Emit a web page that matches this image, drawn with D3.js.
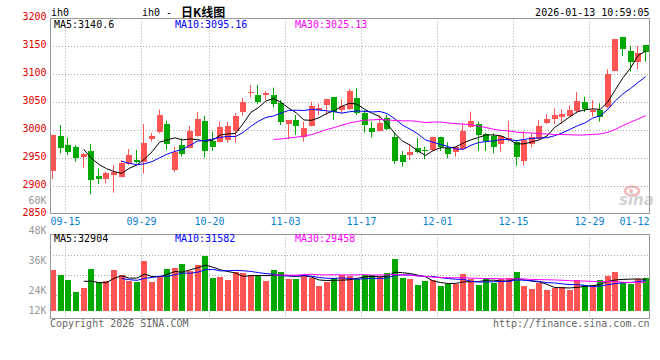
<!DOCTYPE html>
<html><head><meta charset="utf-8">
<script src="https://cdn.jsdelivr.net/npm/d3@7"></script>
<style>
html,body{margin:0;padding:0;background:#fff;}
svg{display:block;font-family:"DejaVu Sans Mono",monospace;font-size:10px;}
</style></head><body>
<svg id="c" width="660" height="360"></svg>
<script>
const dates = ["09-15","09-16","09-17","09-18","09-19","09-22","09-23","09-24","09-25","09-26","09-29","09-30",
"10-09","10-10","10-13","10-14","10-15","10-16","10-17","10-20","10-21","10-22","10-23","10-24","10-27","10-28","10-29","10-30","10-31",
"11-03","11-04","11-05","11-06","11-07","11-10","11-11","11-12","11-13","11-14","11-17","11-18","11-19","11-20","11-21","11-24","11-25","11-26","11-27","11-28",
"12-01","12-02","12-03","12-04","12-05","12-08","12-09","12-10","12-11","12-12","12-15","12-16","12-17","12-18","12-19","12-22","12-23","12-24","12-25","12-26","12-29","12-30","12-31",
"01-05","01-06","01-07","01-08","01-09","01-12","01-13"];
const open = [2927.4,2989.3,2973.2,2969.6,2951.8,2962.5,2918.4,2913.1,2920.2,2916.7,
2939.3,2946.4,2943.5,2983.9,2995.8,3010.7,2928.0,2973.2,2968.4,2989.9,
3016.1,2981.0,2979.2,2981.6,2998.8,3032.7,3065.5,3062.5,3061.9,3062.5,
3047.6,3011.3,3017.9,2986.9,3007.2,3035.7,3045.2,3058.9,3035.1,3037.5,
3057.8,3030.9,3004.2,2998.8,3021.4,2988.1,2955.4,2956.0,2968.4,2964.9,
2964.3,2987.5,2967.9,2961.3,2966.1,3005.4,3010.1,2993.5,2989.3,2974.4,
2981.6,2978.0,2945.3,2975.0,2983.3,3011.9,3019.6,3023.8,3025.6,3034.5,
3050.0,3031.5,3035.7,3040.5,3105.9,3166.7,3141.7,3122.0,3151.2];
const high = [2992.0,3008.9,2986.3,2973.2,2958.4,2975.0,2931.6,2925.6,2937.5,2946.4,
2966.1,2964.3,3010.7,2994.6,3036.3,3016.7,2970.2,2985.1,3007.2,3032.1,
3025.0,2997.0,3014.9,3014.9,3030.4,3057.8,3080.4,3080.4,3069.6,3075.6,
3053.6,3017.9,3026.8,3014.9,3050.6,3047.6,3055.4,3058.9,3054.8,3073.2,
3074.4,3035.7,3014.9,3026.8,3026.8,2995.8,2962.5,2973.2,2985.1,2970.2,
2988.1,2988.1,2978.0,2970.2,3011.9,3032.7,3014.9,2995.2,2994.0,2991.1,
3016.1,2982.2,2998.2,2994.0,3017.9,3028.6,3038.7,3036.9,3044.0,3067.9,
3059.5,3053.6,3047.6,3108.3,3162.5,3166.7,3150.0,3150.0,3151.2];
const low = [2912.5,2958.3,2955.4,2943.5,2932.8,2885.1,2903.6,2904.8,2888.1,2915.5,
2937.5,2940.5,2922.0,2979.2,2994.0,2964.3,2925.0,2952.4,2967.3,2988.1,
2950.6,2962.5,2977.4,2977.4,2977.4,3025.6,3057.8,3045.8,3053.6,3040.5,
3008.9,2983.9,2991.1,2979.2,3006.0,3026.8,3026.8,3017.9,3029.8,3035.7,
3026.8,2995.2,2986.9,2997.0,3000.0,2939.3,2934.5,2946.4,2958.4,2948.2,
2962.5,2962.5,2949.4,2952.4,2964.3,3004.2,2962.5,2962.5,2958.4,2961.3,
2979.2,2936.3,2936.3,2969.0,2983.3,3010.7,3010.7,3010.7,3023.8,3029.8,
3032.1,3023.8,3014.9,3038.7,3104.2,3132.1,3104.2,3108.9,3122.0];
const close = [2991.1,2968.4,2961.3,2950.6,2957.2,2910.7,2913.1,2923.2,2925.0,2941.1,
2955.4,2942.3,2976.8,2989.9,3026.8,2975.6,2961.3,2957.8,2998.8,3019.6,
2963.1,2969.6,3005.4,3007.2,3024.4,3050.0,3068.5,3050.0,3066.7,3045.8,
3014.9,3017.9,3007.2,3003.6,3042.9,3038.7,3055.4,3032.1,3042.9,3070.2,
3029.8,3009.5,2996.4,3013.1,3002.4,2944.7,2943.5,2960.7,2960.7,2963.1,
2987.5,2970.2,2957.8,2970.2,2998.2,3016.1,2991.1,2980.4,2970.2,2988.7,
2985.1,2951.2,2981.6,2986.9,3007.2,3019.6,3026.8,3028.6,3035.1,3052.4,
3036.9,3035.7,3023.8,3100.0,3162.5,3144.1,3122.0,3136.9,3139.9];
const volume = [41720,36590,31460,19150,23260,42750,29410,30440,41720,36590,
30440,29410,50960,29410,35570,42750,43780,47880,40700,46850,
56090,33520,34540,31460,39670,38650,36940,35570,30440,41720,
39670,32490,32490,35570,33520,25310,29410,33520,36590,35570,
32490,36590,36590,34540,38650,53010,33520,32490,26330,30440,
31460,25310,27360,27360,37620,32490,26330,33520,28390,32490,
33520,39670,25310,22230,28390,21200,23260,24280,21200,31460,
26330,26330,31460,35570,39670,29410,27360,32490,33520];
const priceTicks = [3200,3150,3100,3050,3000,2950,2900,2850];
const volTickValues = [60000,48000,36000,24000,12000];
const volTickLabels = ["60K","48K","36K","24K","12K"];
const dateTicks = ["09-15","09-29","10-20","11-03","11-17","12-01","12-15","12-29","01-12"];
const maPeriods = [5,10,30];
const maColors = ["#000000","#0000ff","#ff00ff"];
const maText = ["MA5:3140.6","MA10:3095.16","MA30:3025.13"];
const volMaText = ["MA5:32904","MA10:31582","MA30:29458"];
const symbol = "ih0";
const titleCN = "日K线图";
const stamp = "2026-01-13 10:59:05";

const UP = "#ff5555", DOWN = "#00a800", GRID = "#a8a8a8", FRAME = "#999999";
const svg = d3.select("#c");
const L = 50, R = 649.5, mT = 18.5, mB = 213.5, vT = 234.5, vB = 318.5;

const x = d3.scaleBand().domain(dates).range([49.5, 649.5]);
const step = x.step();
const cx = d => x(d) + step / 2;
const y = d3.scaleLinear().domain([2850, 3200]).range([214, 18]);
const yv = d3.scaleLinear().domain([0, 78000]).range([311, 235]);
const yvl = d3.scaleLinear().domain([24000, 60000]).range([290.5, 200.5]);

const data = dates.map((d, i) => ({d, i, o: open[i], h: high[i], l: low[i], c: close[i], v: volume[i]}));

function ma(arr, n) {
  const out = [];
  for (let i = n - 1; i < arr.length; i++) {
    let s = 0; for (let k = i - n + 1; k <= i; k++) s += arr[k];
    out.push({d: dates[i], v: s / n});
  }
  return out;
}

// watermark
const wm = svg.append("g").attr("opacity", 0.75);
wm.append("ellipse").attr("cx", 632).attr("cy", 191).attr("rx", 7).attr("ry", 4.5).attr("fill", "none").attr("stroke", "#f0a0a0").attr("stroke-width", 2.5);
wm.append("circle").attr("cx", 631).attr("cy", 191).attr("r", 2).attr("fill", "#f0a0a0");
wm.append("text").attr("x", 619).attr("y", 205).text("sina")
  .style("font-family", "DejaVu Sans").style("font-size", "15px").style("font-weight", "bold").style("font-style", "italic").attr("fill", "#c4c4c4");

// horizontal grid main
svg.append("g").selectAll("line").data(priceTicks.filter(p => p < 3200 && p > 2850)).join("line")
  .attr("x1", L).attr("x2", R).attr("y1", p => Math.round(y(p)) + 0.5).attr("y2", p => Math.round(y(p)) + 0.5)
  .attr("stroke", GRID).attr("stroke-dasharray", "1,2");
// horizontal grid volume
svg.append("g").selectAll("line").data([1, 2, 3]).join("line")
  .attr("x1", L).attr("x2", R).attr("y1", k => Math.round(vT + k * 20.2) + 0.5).attr("y2", k => Math.round(vT + k * 20.2) + 0.5)
  .attr("stroke", GRID).attr("stroke-dasharray", "1,2");
// vertical grid
const gx = d => Math.round(cx(d) + step * 1.5) + 0.5;
const vg = dateTicks.filter(d => gx(d) < R - 1);
["main", "vol"].forEach(p => {
  svg.append("g").selectAll("line").data(vg).join("line")
    .attr("x1", gx).attr("x2", gx)
    .attr("y1", p === "main" ? mT : vT).attr("y2", p === "main" ? mB : vB)
    .attr("stroke", GRID).attr("stroke-dasharray", "1,2");
});

// candles
const cg = svg.append("g");
cg.selectAll("line").data(data).join("line")
  .attr("x1", d => Math.round(cx(d.d) - 3) + 2.5).attr("x2", d => Math.round(cx(d.d) - 3) + 2.5)
  .attr("y1", d => y(d.h)).attr("y2", d => y(d.l))
  .attr("stroke", d => d.c >= d.o ? UP : DOWN).attr("stroke-width", 1);
cg.selectAll("rect").data(data).join("rect")
  .attr("x", d => Math.round(cx(d.d) - 3)).attr("width", 6)
  .attr("y", d => y(Math.max(d.o, d.c)))
  .attr("height", d => Math.max(1, Math.abs(y(d.o) - y(d.c))))
  .attr("fill", d => d.c >= d.o ? UP : DOWN).attr("shape-rendering", "crispEdges");

// price MA lines
const lineP = d3.line().x(p => cx(p.d)).y(p => y(p.v));
maPeriods.forEach((n, k) => {
  svg.append("path").datum(ma(close, n)).attr("d", lineP).attr("fill", "none").attr("stroke", maColors[k]).attr("stroke-width", 1);
});

// volume bars
svg.append("g").selectAll("rect").data(data).join("rect")
  .attr("x", d => Math.round(cx(d.d) - 3)).attr("width", 6)
  .attr("y", d => yv(d.v)).attr("height", d => yv(0) - yv(d.v))
  .attr("fill", d => d.c >= d.o ? UP : DOWN).attr("shape-rendering", "crispEdges");
const lineV = d3.line().x(p => cx(p.d)).y(p => yv(p.v));
maPeriods.forEach((n, k) => {
  svg.append("path").datum(ma(volume, n)).attr("d", lineV).attr("fill", "none").attr("stroke", maColors[k]).attr("stroke-width", 1);
});

// frames
const fr = svg.append("g").attr("stroke", FRAME).attr("fill", "none").attr("shape-rendering", "crispEdges");
fr.append("rect").attr("x", L).attr("y", mT).attr("width", R - L).attr("height", mB - mT);
fr.append("rect").attr("x", L).attr("y", vT).attr("width", R - L).attr("height", vB - vT);

// price labels
svg.append("g").selectAll("text").data(priceTicks).join("text")
  .attr("x", 46.5).attr("y", p => y(p) - 1.7).attr("dy", "0.35em").attr("text-anchor", "end")
  .attr("fill", "#e00000").text(p => p);
// volume labels
svg.append("g").selectAll("text").data(volTickValues).join("text")
  .attr("x", 46.5).attr("y", v => Math.min(yvl(v), 310.7)).attr("dy", "0.35em").attr("text-anchor", "end")
  .attr("fill", "#999999").text((v, i) => volTickLabels[i]);
// date labels
svg.append("g").selectAll("text").data(dateTicks).join("text")
  .attr("x", d => Math.min(gx(d), R - 15)).attr("y", 221.7).attr("dy", "0.35em").attr("text-anchor", "middle")
  .attr("fill", "#0a80d2").text(d => d);

// headers
svg.append("text").attr("x", 51).attr("y", 12).attr("dy", "0.35em").text(symbol);
svg.append("text").attr("x", 142).attr("y", 12).attr("dy", "0.35em").text(symbol + " -");
svg.append("text").attr("x", 181).attr("y", 12).attr("dy", "0.38em").text(titleCN)
  .style("font-family", "'Noto Sans CJK SC'").style("font-size", "12px").style("font-weight", "bold");
svg.append("text").attr("x", R).attr("y", 12).attr("dy", "0.35em").attr("text-anchor", "end").text(stamp);
const hx = [54, 175, 295];
maText.forEach((t, k) => svg.append("text").attr("x", hx[k]).attr("y", 24).attr("dy", "0.35em").attr("fill", maColors[k]).text(t));
volMaText.forEach((t, k) => svg.append("text").attr("x", hx[k]).attr("y", 238.5).attr("dy", "0.35em").attr("fill", maColors[k]).text(t));
svg.append("text").attr("x", L).attr("y", 323.5).attr("dy", "0.35em").attr("fill", "#666").text("Copyright 2026 SINA.COM");
svg.append("text").attr("x", R).attr("y", 323.5).attr("dy", "0.35em").attr("text-anchor", "end").attr("fill", "#666").text("http://finance.sina.com.cn");
</script>
</body></html>
